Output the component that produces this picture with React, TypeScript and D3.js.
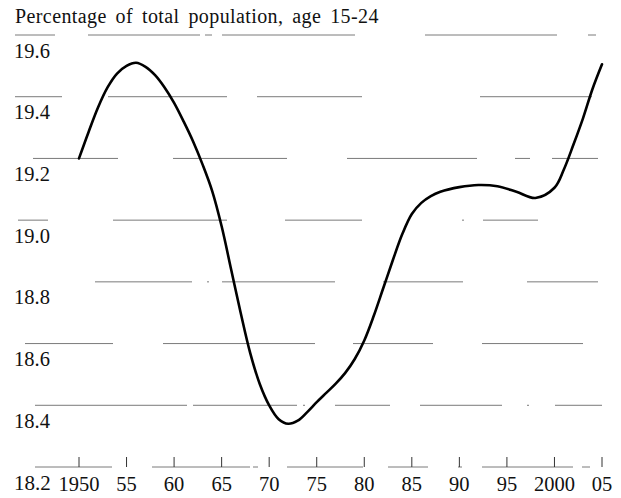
import React from "react";
import * as d3 from "d3";

const years = [1950,1951,1952,1953,1954,1955,1956,1957,1958,1959,1960,1961,1962,1963,1964,1965,1966,1967,1968,1969,1970,1971,1972,1973,1974,1975,1976,1977,1978,1979,1980,1981,1982,1983,1984,1985,1986,1987,1988,1990,1992,1994,1996,1998,2000,2001,2002,2003,2004,2005];
const shares = [19.20,19.285,19.365,19.43,19.475,19.50,19.51,19.497,19.47,19.43,19.38,19.32,19.255,19.18,19.095,18.98,18.84,18.70,18.57,18.47,18.40,18.355,18.34,18.35,18.378,18.41,18.44,18.47,18.505,18.55,18.61,18.69,18.78,18.87,18.955,19.02,19.056,19.078,19.092,19.107,19.114,19.11,19.092,19.072,19.105,19.165,19.245,19.33,19.425,19.505];
const yTicks = [18.2,18.4,18.6,18.8,19.0,19.2,19.4,19.6];
const yTickLabels = ["18.2","18.4","18.6","18.8","19.0","19.2","19.4","19.6"];
const xTicks = [1950,1955,1960,1965,1970,1975,1980,1985,1990,1995,2000,2005];
const xTickLabels = ["1950","55","60","65","70","75","80","85","90","95","2000","05"];
const title = "Percentage of total population, age 15-24";

// broken gridline segments (visual style of the printed original), per gridline from 18.4 up
const gridSegments: [number, number][][] = [
  [[35,187],[193,297],[303,305],[335,390],[420,502],[527,529],[555,602]],
  [[25,113],[163,315],[353,433],[482,583]],
  [[95,192],[207,209],[222,335],[383,463],[527,598]],
  [[18,48],[113,227],[285,362],[462,464],[483,538]],
  [[33,118],[173,287],[347,477],[515,530],[552,598]],
  [[15,62],[108,227],[257,362],[480,592]],
  [[15,55],[88,200],[205,212],[222,355],[425,557],[588,596]],
];
const baseSegments: [number, number][] = [[35,112],[152,250],[253,258],[287,363],[388,428],[458,462],[482,573],[582,590]];

export default function App() {
  const W = 621, H = 498;
  const x = d3.scaleLinear().domain([1950, 2005]).range([79, 602]);
  const y = d3.scaleLinear().domain([18.2, 19.6]).range([467, 35]);
  const line = d3.line<number>()
    .x((_, i) => x(years[i]))
    .y((d) => y(d))
    .curve(d3.curveCatmullRom.alpha(0.5));
  const font = "'Liberation Serif', 'Times New Roman', serif";
  return (
    <svg width={W} height={H} style={{ position: "absolute", left: 0, top: 0, background: "#fff" }}>
      <text x={15} y={23} fontFamily={font} fontSize={20} letterSpacing={0.4} wordSpacing={3.5} fill="#111">{title}</text>
      {yTicks.slice(1).map((v, i) => (
        <g key={v}>
          {gridSegments[i].map((s, j) => (
            <line key={j} x1={s[0]} x2={s[1]} y1={y(v)} y2={y(v)} stroke="#7a7a7a" strokeWidth={1} />
          ))}
        </g>
      ))}
      {baseSegments.map((s, j) => (
        <line key={j} x1={s[0]} x2={s[1]} y1={y(18.2)} y2={y(18.2)} stroke="#7a7a7a" strokeWidth={1} />
      ))}
      {xTicks.map((t) => (
        <line key={t} x1={x(t)} x2={x(t)} y1={y(18.2)} y2={y(18.2) - 10} stroke="#333" strokeWidth={1} />
      ))}
      {yTicks.map((v, i) => (
        <text key={v} x={14} y={y(v) + (i === 0 ? 23 : 22.5)} fontFamily={font} fontSize={i === 0 ? 21 : 20.5} fill="#111">{yTickLabels[i]}</text>
      ))}
      {xTicks.map((t, i) => (
        <text key={t} x={x(t)} y={491} textAnchor="middle" fontFamily={font} fontSize={20.5} fill="#111">{xTickLabels[i]}</text>
      ))}
      <path d={line(shares) || ""} fill="none" stroke="#000" strokeWidth={2.6} strokeLinejoin="round" strokeLinecap="round" />
    </svg>
  );
}
